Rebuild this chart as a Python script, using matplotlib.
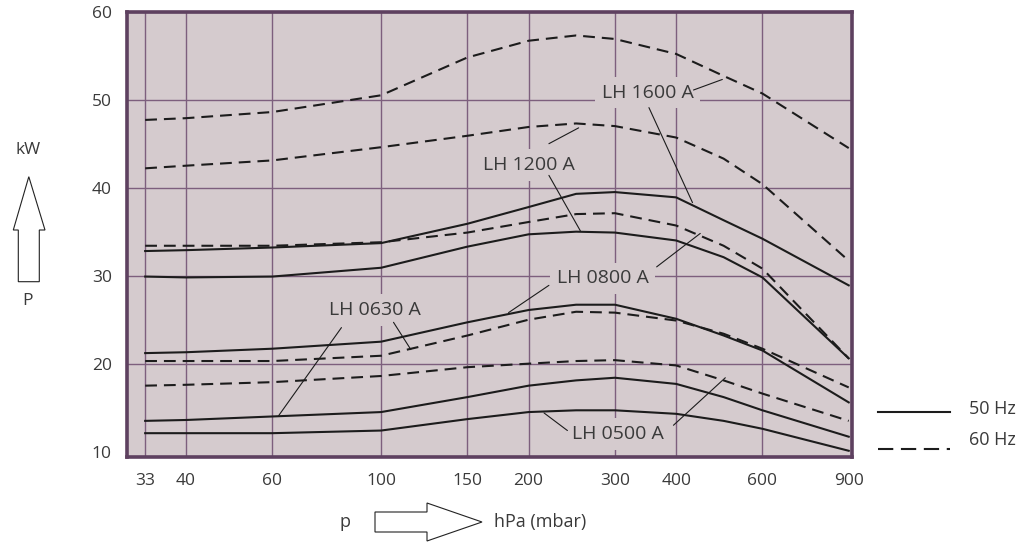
import matplotlib
matplotlib.use("Agg")
import matplotlib.pyplot as plt
from matplotlib.patches import Polygon
from matplotlib.lines import Line2D
from matplotlib.ticker import NullLocator, FixedLocator, FixedFormatter

plt.rcParams["font.family"] = ["Open Sans", "DejaVu Sans"]
plt.rcParams["lines.scale_dashes"] = False

# ---------------- data ----------------
pressure_hpa = [33, 40, 60, 100, 150, 200, 250, 300, 400, 500, 600, 900]

lh1600_50hz = [32.8, 32.9, 33.2, 33.7, 35.9, 37.8, 39.3, 39.5, 38.9, 36.3, 34.2, 28.9]
lh1600_60hz = [47.7, 47.9, 48.6, 50.5, 54.8, 56.7, 57.3, 56.9, 55.2, 52.7, 50.7, 44.5]
lh1200_50hz = [29.9, 29.8, 29.9, 30.9, 33.3, 34.7, 35.0, 34.9, 34.0, 32.1, 29.8, 20.6]
lh1200_60hz = [42.2, 42.5, 43.1, 44.6, 45.9, 46.9, 47.3, 47.0, 45.7, 43.3, 40.4, 31.7]
lh0800_50hz = [21.2, 21.3, 21.7, 22.5, 24.7, 26.1, 26.7, 26.7, 25.1, 23.2, 21.5, 15.6]
lh0800_60hz = [33.4, 33.4, 33.4, 33.8, 34.9, 36.1, 37.0, 37.1, 35.7, 33.4, 30.8, 20.6]
lh0630_50hz = [13.5, 13.6, 14.0, 14.5, 16.2, 17.5, 18.1, 18.4, 17.7, 16.2, 14.7, 11.7]
lh0630_60hz = [20.3, 20.3, 20.3, 20.9, 23.2, 25.0, 25.9, 25.8, 24.9, 23.4, 21.7, 17.3]
lh0500_50hz = [12.1, 12.1, 12.1, 12.4, 13.7, 14.5, 14.7, 14.7, 14.3, 13.5, 12.6, 10.1]
lh0500_60hz = [17.5, 17.6, 17.9, 18.6, 19.6, 20.0, 20.3, 20.4, 19.8, 18.1, 16.6, 13.5]

x_ticks = [33, 40, 60, 100, 150, 200, 300, 400, 600, 900]
y_ticks = [10, 20, 30, 40, 50, 60]

model_names = ["LH 1600 A", "LH 1200 A", "LH 0800 A", "LH 0630 A", "LH 0500 A"]
series_50hz = [lh1600_50hz, lh1200_50hz, lh0800_50hz, lh0630_50hz, lh0500_50hz]
series_60hz = [lh1600_60hz, lh1200_60hz, lh0800_60hz, lh0630_60hz, lh0500_60hz]

# ---------------- style ----------------
W, H = 1027, 545
BG = "#d5cbce"
GRID = "#7d5f7d"
FRAME = "#5e4160"
INK = "#1c1c1c"
TXT = "#3a3a3a"
LW = 1.5
DASH = (0, (8.5, 5.0))

fig = plt.figure(figsize=(W / 100, H / 100), dpi=100)
fig.patch.set_facecolor("white")

def fx(px):
    return px / W

def fy(py):
    return 1 - py / H

ax = fig.add_axes([fx(127), fy(456.5), (852 - 127) / W, (456.5 - 11.7) / H])
ax.set_facecolor(BG)
ax.set_xscale("log")
ax.set_xlim(30.3, 914)
ax.set_ylim(9.45, 60)

ax.xaxis.set_major_locator(FixedLocator(x_ticks))
ax.xaxis.set_major_formatter(FixedFormatter([str(v) for v in x_ticks]))
ax.xaxis.set_minor_locator(NullLocator())
ax.set_yticks(y_ticks)
ax.set_yticklabels([str(v) for v in y_ticks])
ax.tick_params(axis="both", length=0, labelsize=12.5, labelcolor=TXT)
ax.tick_params(axis="x", pad=12)
ax.tick_params(axis="y", pad=11)

ax.grid(True, color=GRID, lw=1.0, zorder=0)
ax.set_axisbelow(True)
for gl, v in zip(ax.xaxis.get_gridlines(), x_ticks):
    if v == 900:
        gl.set_visible(False)
for gl, v in zip(ax.yaxis.get_gridlines(), y_ticks):
    if v == 10:
        gl.set_visible(False)
for s in ax.spines.values():
    s.set_color(FRAME)
    s.set_linewidth(2.6)

for vals in series_50hz:
    ax.plot(pressure_hpa, vals, color=INK, lw=LW, zorder=4, solid_joinstyle="round")
for vals in series_60hz:
    ax.plot(pressure_hpa, vals, color=INK, lw=LW, ls=DASH, zorder=4)

# ---------------- labels with leader lines ----------------
label_specs = [
    ("LH 1600 A", (350, 50.8), [((434, 51.1), (497, 52.3)), ((352, 49.1), (432, 38.3))]),
    ("LH 1200 A", (200, 42.6), [((220, 45.0), (253, 46.8)), ((220, 41.4), (255, 35.1))]),
    ("LH 0800 A", (283, 29.7), [((220, 28.9), (182, 25.8)), ((365, 31.0), (448, 34.8))]),
    ("LH 0630 A", (97.3, 26.1), [((83, 24.1), (61.8, 14.1)), ((106, 24.7), (115, 21.6))]),
    ("LH 0500 A", (305, 12.0), [((240, 12.4), (215, 14.4)), ((395, 13.0), (504, 18.4))]),
]
for name, (tx, ty), leaders in label_specs:
    ax.text(tx, ty, name, ha="center", va="center", fontsize=14, color=TXT, zorder=3,
            bbox=dict(boxstyle="square,pad=0.35", fc=BG, ec="none"))
    for (x0, y0), (x1, y1) in leaders:
        ax.annotate("", xy=(x1, y1), xytext=(x0, y0),
                    arrowprops=dict(arrowstyle="-", color=INK, lw=0.8,
                                    shrinkA=0, shrinkB=0), zorder=4)

# ---------------- legend ----------------
fig.add_artist(Line2D([fx(878), fx(950)], [fy(412), fy(412)], color=INK, lw=LW))
fig.add_artist(Line2D([fx(878), fx(950)], [fy(449), fy(449)], color=INK, lw=LW,
                      ls=(0, (11, 5.5))))
fig.text(fx(969), fy(409), "50 Hz", fontsize=13, color=TXT, va="center", ha="left")
fig.text(fx(969), fy(440), "60 Hz", fontsize=13, color=TXT, va="center", ha="left")

# ---------------- axis arrows ----------------
# vertical (P / kW)
up = [(18.3, 281.7), (39.3, 281.7), (39.3, 230), (45, 230), (28.8, 176.7),
      (13.3, 230), (18.3, 230)]
fig.add_artist(Polygon([(fx(a), fy(b)) for a, b in up], closed=True, fc="white",
                       ec="#222222", lw=0.8, transform=fig.transFigure))
fig.text(fx(28), fy(150), "kW", fontsize=12.5, color=TXT, ha="center", va="center")
fig.text(fx(28), fy(301), "P", fontsize=12.5, color=TXT, ha="center", va="center")

# horizontal (p -> hPa)
right = [(375, 512), (427, 512), (427, 503), (482, 522), (427, 541), (427, 532), (375, 532)]
fig.add_artist(Polygon([(fx(a), fy(b)) for a, b in right], closed=True, fc="white",
                       ec="#222222", lw=0.8, transform=fig.transFigure))
fig.text(fx(345), fy(522), "p", fontsize=13, color=TXT, ha="center", va="center")
fig.text(fx(494), fy(522), "hPa (mbar)", fontsize=13, color=TXT, ha="left", va="center")

fig.savefig("out.png", dpi=100)
